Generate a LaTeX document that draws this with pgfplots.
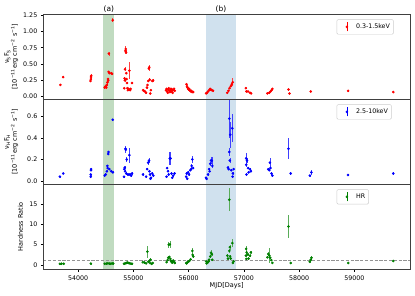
\documentclass[border=0pt]{standalone}
\usepackage{fontspec}
\setmainfont{DejaVu Sans}
\usepackage{pgfplots}
\usepackage{pgfplotstable}
\pgfplotsset{compat=1.18}
\definecolor{bandgreen}{RGB}{192,219,192}
\definecolor{bandblue}{RGB}{208,225,238}
\definecolor{mplgreen}{RGB}{0,128,0}

\pgfplotstableread{
x y e
53680 0.18 0.01
53730 0.30 0.01
54225 0.24 0.02
54230 0.27 0.02
54233 0.30 0.02
54236 0.32 0.02
54482 0.14 0.01
54490 0.15 0.01
54500 0.16 0.01
54510 0.14 0.01
54520 0.18 0.01
54530 0.22 0.02
54540 0.27 0.02
54545 0.25 0.02
54550 0.38 0.02
54555 0.66 0.03
54565 0.36 0.02
54600 0.36 0.02
54615 0.35 0.02
54627 1.17 0.03
54835 0.13 0.01
54840 0.28 0.02
54845 0.25 0.02
54850 0.42 0.03
54855 0.70 0.04
54862 0.73 0.05
54868 0.68 0.03
54872 0.36 0.02
54878 0.27 0.02
54885 0.21 0.02
54892 0.13 0.01
54900 0.10 0.01
54910 0.12 0.01
54920 0.11 0.01
54928 0.40 0.13
54940 0.10 0.01
54950 0.12 0.01
54976 0.21 0.02
55175 0.10 0.01
55190 0.09 0.01
55210 0.08 0.01
55230 0.06 0.01
55245 0.14 0.01
55255 0.18 0.02
55270 0.24 0.02
55280 0.43 0.03
55288 0.45 0.03
55295 0.26 0.02
55305 0.05 0.01
55315 0.10 0.01
55340 0.24 0.02
55356 0.25 0.02
55590 0.10 0.01
55600 0.12 0.01
55610 0.08 0.01
55620 0.06 0.01
55630 0.11 0.01
55640 0.13 0.01
55650 0.09 0.01
55660 0.07 0.01
55670 0.10 0.01
55680 0.12 0.01
55690 0.08 0.01
55700 0.11 0.01
55710 0.06 0.01
55720 0.10 0.01
55735 0.12 0.01
55748 0.09 0.01
55960 0.19 0.01
55970 0.16 0.01
55980 0.14 0.01
55990 0.12 0.01
56000 0.11 0.01
56010 0.12 0.01
56020 0.10 0.01
56030 0.09 0.01
56040 0.08 0.01
56050 0.09 0.01
56065 0.07 0.01
56083 0.07 0.01
56315 0.05 0.01
56330 0.06 0.01
56350 0.08 0.01
56370 0.10 0.01
56390 0.12 0.01
56400 0.11 0.01
56420 0.10 0.01
56440 0.09 0.01
56700 0.06 0.01
56720 0.09 0.01
56740 0.13 0.01
56760 0.16 0.01
56780 0.19 0.02
56797 0.22 0.06
57035 0.13 0.01
57045 0.08 0.01
57075 0.08 0.01
57110 0.06 0.01
57130 0.05 0.01
57425 0.05 0.01
57460 0.06 0.01
57480 0.08 0.01
57500 0.10 0.01
57515 0.12 0.01
57805 0.11 0.01
57825 0.05 0.01
58210 0.08 0.01
58885 0.09 0.01
59702 0.07 0.01
}\dataS

\pgfplotstableread{
x y e
53670 0.04 0.005
53730 0.07 0.005
54228 0.04 0.005
54230 0.06 0.005
54232 0.10 0.005
54234 0.11 0.005
54482 0.05 0.01
54500 0.06 0.01
54520 0.09 0.01
54530 0.14 0.01
54535 0.12 0.01
54545 0.25 0.01
54550 0.27 0.01
54565 0.11 0.01
54600 0.09 0.01
54627 0.57 0.01
54630 0.08 0.01
54830 0.04 0.01
54835 0.11 0.01
54845 0.125 0.01
54850 0.09 0.01
54856 0.30 0.03
54862 0.29 0.03
54870 0.07 0.01
54880 0.20 0.02
54900 0.06 0.01
54928 0.24 0.07
54935 0.06 0.01
54960 0.05 0.01
54975 0.07 0.01
55175 0.06 0.01
55230 0.04 0.01
55250 0.11 0.01
55266 0.17 0.02
55284 0.19 0.02
55290 0.09 0.01
55300 0.06 0.01
55310 0.02 0.01
55320 0.03 0.01
55340 0.07 0.01
55360 0.05 0.01
55600 0.04 0.01
55610 0.12 0.01
55625 0.09 0.01
55640 0.06 0.01
55658 0.21 0.06
55672 0.21 0.06
55690 0.07 0.01
55705 0.03 0.01
55720 0.05 0.01
55745 0.07 0.01
55955 0.04 0.01
55965 0.07 0.01
55975 0.02 0.01
55990 0.08 0.01
56005 0.06 0.01
56030 0.10 0.01
56045 0.11 0.01
56055 0.14 0.02
56067 0.20 0.03
56080 0.12 0.01
56315 0.03 0.01
56325 0.02 0.01
56350 0.06 0.01
56370 0.11 0.01
56380 0.09 0.01
56390 0.16 0.02
56405 0.19 0.03
56420 0.19 0.03
56428 0.14 0.02
56710 0.125 0.01
56725 0.11 0.01
56736 0.58 0.18
56736 0.27 0.04
56745 0.19 0.02
56752 0.43 0.12
56770 0.10 0.01
56790 0.49 0.13
56795 0.04 0.01
56800 0.07 0.01
56815 0.11 0.01
57040 0.21 0.05
57042 0.15 0.02
57045 0.06 0.01
57055 0.19 0.02
57075 0.12 0.01
57085 0.08 0.01
57110 0.11 0.01
57125 0.09 0.01
57440 0.11 0.01
57460 0.10 0.01
57470 0.17 0.04
57480 0.12 0.01
57500 0.07 0.01
57515 0.05 0.01
57805 0.30 0.10
57846 0.07 0.01
58192 0.05 0.01
58222 0.08 0.02
58882 0.056 0.01
59702 0.07 0.01
}\dataH

\pgfplotstableread{
x y e
53670 0.30 0.05
53700 0.30 0.05
53740 0.30 0.05
54230 0.35 0.05
54482 0.30 0.05
54510 0.35 0.05
54540 0.40 0.05
54565 0.35 0.05
54590 0.30 0.05
54615 0.40 0.05
54635 0.35 0.05
54830 0.30 0.05
54850 0.40 0.05
54870 0.50 0.05
54890 0.60 0.05
54910 0.50 0.05
54930 0.45 0.05
54955 0.35 0.05
54975 0.30 0.05
55170 0.70 0.10
55200 0.60 0.10
55230 0.40 0.10
55253 3.30 1.50
55270 0.80 0.10
55290 1.00 0.20
55300 0.50 0.10
55310 1.30 0.40
55330 0.30 0.10
55350 0.50 0.10
55600 0.70 0.10
55620 1.20 0.20
55630 1.80 0.30
55640 5.00 0.70
55650 2.00 0.30
55660 5.10 0.80
55670 1.50 0.20
55680 1.00 0.20
55690 0.80 0.10
55700 0.60 0.10
55710 0.90 0.10
55720 1.10 0.20
55740 0.70 0.10
55750 0.50 0.10
55955 0.50 0.10
55965 0.40 0.10
55975 0.60 0.10
55990 0.80 0.10
56010 1.00 0.10
56035 1.40 0.20
56067 3.50 0.70
56072 2.50 0.40
56082 2.10 0.30
56315 0.90 0.10
56325 0.40 0.10
56345 0.60 0.10
56360 0.90 0.10
56370 1.30 0.20
56390 2.10 0.30
56405 3.00 0.60
56420 2.60 0.40
56428 1.30 0.20
56700 2.30 0.30
56710 1.60 0.20
56736 16.10 2.80
56736 3.50 0.50
56745 4.40 0.60
56750 2.10 0.30
56760 1.60 0.20
56790 5.40 1.00
56800 0.50 0.10
56815 0.90 0.10
57035 2.30 0.30
57040 4.00 0.80
57045 1.50 0.20
57050 3.10 0.40
57070 2.60 0.30
57085 1.60 0.20
57110 2.30 0.30
57125 3.10 0.40
57425 1.90 0.20
57440 2.70 0.40
57460 2.30 1.80
57475 1.80 0.20
57495 1.20 0.20
57515 0.50 0.10
57805 9.50 2.80
57846 0.50 0.10
58192 0.80 0.10
58210 1.30 0.20
58222 1.80 0.30
58888 0.50 0.10
59702 1.00 0.20
}\dataHR

\pgfplotsset{
  panel/.style={
    scale only axis, width=366.7pt, height=85pt,
    xmin=53370, xmax=60005,
    clip mode=individual,
    axis on top,
    tick align=outside,
    xtick pos=left, ytick pos=left,
    major tick length=2.5pt,
    tick style={line width=0.5pt, black},
    axis line style={line width=0.6pt, black!75},
    tick label style={font=\fontsize{6.3}{7.5}\selectfont},
    label style={font=\fontsize{6.5}{7.8}\selectfont},
    /pgf/number format/assume math mode=true,
    /pgf/number format/1000 sep={},
    scaled x ticks=false, scaled y ticks=false,
    xtick={54000,55000,56000,57000,58000,59000},
    legend style={at={(0.80,0.94)}, anchor=north west, draw=black!20, rounded corners=1.2pt,
      font=\fontsize{6.3}{7.5}\selectfont, inner xsep=1.5pt, inner ysep=2.2pt,
      row sep=0pt, /tikz/every even column/.append style={column sep=3pt}},
    legend cell align=left,
    legend image code/.code={
      \path[draw=none, fill=none] (0cm,0cm) -- (0.55cm,0cm);
      \draw[line width=0.5pt] (0.3cm,-1.6mm) -- (0.3cm,1.6mm);
      \fill (0.3cm,0cm) circle (1.1pt);
    },
  },
  dat/.style={only marks, mark=*, mark size=1.1pt,
    error bars/.cd, y dir=both, y explicit, error mark=none,
    error bar style={line width=0.55pt, #1}},
  band/.style={draw=none, forget plot},
}

\begin{document}
\begin{tikzpicture}
\path[use as bounding box] (0pt,0pt) rectangle (415pt,-296pt);

% Top panel
\begin{axis}[panel, at={(43.3pt,-14.3pt)}, anchor=north west,
  ymin=-0.04, ymax=1.262,
  ytick={0,0.25,0.5,0.75,1,1.25},
  yticklabel style={/pgf/number format/fixed, /pgf/number format/fixed zerofill, /pgf/number format/precision=2},
  xticklabels={}, xtick style={draw=none},
  ylabel={ν\textsubscript{S}F\textsubscript{S}\\{[}10\textsuperscript{−11}erg cm\textsuperscript{−2} s\textsuperscript{−1}{]}},
  ylabel style={align=center, at={(axis description cs:-0.059,0.5)}, anchor=south},
]
\addplot[band, fill=bandgreen] coordinates {(54457,-1)(54657,-1)(54657,2)(54457,2)};
\addplot[band, fill=bandblue] coordinates {(56315,-1)(56852,-1)(56852,2)(56315,2)};
\addplot[red, dat={red!75}] table[x=x, y=y, y error=e] {\dataS};
\addlegendentry{0.3-1.5keV}
\node[anchor=south, font=\fontsize{7.5}{8.5}\selectfont, inner sep=1pt] at (axis cs:54557,1.27) {(a)};
\node[anchor=south, font=\fontsize{7.5}{8.5}\selectfont, inner sep=1pt] at (axis cs:56584,1.27) {(b)};
\end{axis}

% Middle panel
\begin{axis}[panel, at={(43.3pt,-99.3pt)}, anchor=north west,
  ymin=-0.031, ymax=0.76,
  ytick={0,0.2,0.4,0.6},
  yticklabel style={/pgf/number format/fixed, /pgf/number format/fixed zerofill, /pgf/number format/precision=1},
  xticklabels={}, xtick style={draw=none},
  ylabel={ν\textsubscript{H}F\textsubscript{H}\\{[}10\textsuperscript{−11}erg cm\textsuperscript{−2} s\textsuperscript{−1}{]}},
  ylabel style={align=center, at={(axis description cs:-0.059,0.5)}, anchor=south},
]
\addplot[band, fill=bandgreen] coordinates {(54457,-1)(54657,-1)(54657,2)(54457,2)};
\addplot[band, fill=bandblue] coordinates {(56315,-1)(56852,-1)(56852,2)(56315,2)};
\addplot[blue, dat={blue!75}] table[x=x, y=y, y error=e] {\dataH};
\addlegendentry{2.5-10keV}
\end{axis}

% Bottom panel
\begin{axis}[panel, at={(43.3pt,-184.3pt)}, anchor=north west,
  ymin=-1.06, ymax=19.9,
  ytick={0,5,10,15},
  ylabel={Hardness Ratio},
  ylabel style={at={(axis description cs:-0.046,0.5)}, anchor=south},
  xlabel={MJD[Days]},
  xlabel style={at={(axis description cs:0.5,-0.115)}, anchor=north},
]
\addplot[band, fill=bandgreen] coordinates {(54457,-5)(54657,-5)(54657,30)(54457,30)};
\addplot[band, fill=bandblue] coordinates {(56315,-5)(56852,-5)(56852,30)(56315,30)};
\addplot[forget plot, gray!85, line width=0.9pt, dash pattern=on 3.2pt off 1.6pt] coordinates {(53370,1)(60005,1)};
\addplot[mplgreen, dat={mplgreen!65}] table[x=x, y=y, y error=e] {\dataHR};
\addlegendentry{HR}
\end{axis}
\end{tikzpicture}
\end{document}
